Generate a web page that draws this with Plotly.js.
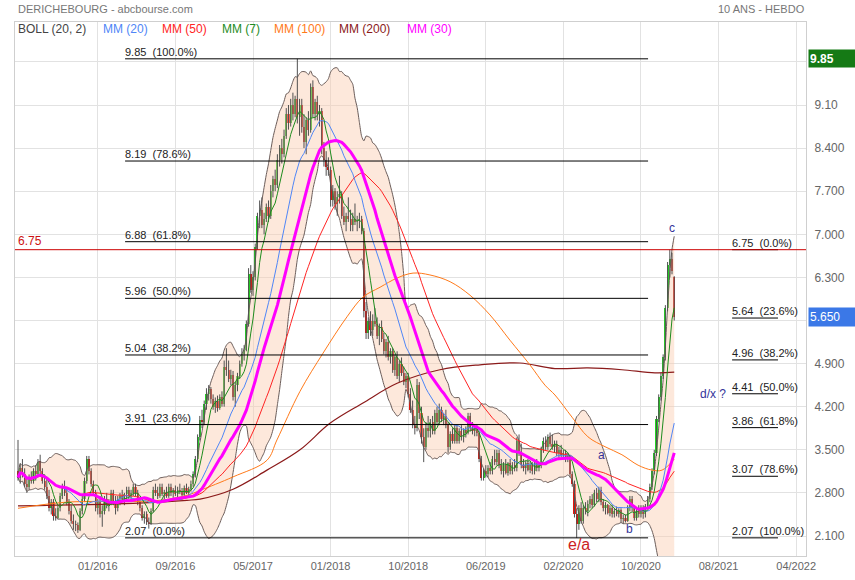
<!DOCTYPE html>
<html><head><meta charset="utf-8">
<script src="https://cdn.plot.ly/plotly-3.0.1.min.js"></script>
<style>html,body{margin:0;padding:0;background:#fff;}#chart{width:855px;height:580px;}</style>
</head><body><div id="chart"></div>
<script>
// ---- weekly OHLC (bar index 0 .. 296) ----
const opens = [
3.15,3.05,3.2,3.1,2.95,2.9,3.05,3.0,3.15,3.1,
3.32,3.15,3.0,2.9,2.75,2.55,2.65,2.42,2.4,2.55,
2.75,2.9,2.8,2.65,2.5,2.35,2.3,2.28,2.2,2.5,
2.7,3.0,3.35,3.15,2.95,2.8,2.55,2.65,2.45,2.5,
2.7,2.6,2.65,2.8,2.65,2.55,2.7,2.75,2.7,2.78,
2.85,2.75,2.8,2.9,2.8,2.65,2.55,2.4,2.45,2.32,
2.3,2.5,2.85,2.8,2.75,2.9,2.78,2.82,2.75,2.9,
2.8,2.85,2.78,2.85,2.82,2.76,2.88,2.8,2.86,2.95,
3.1,3.35,3.7,3.98,3.95,4.25,4.4,4.48,4.32,4.2,
4.3,4.18,4.35,4.25,4.85,4.8,4.65,4.72,4.35,4.55,
4.7,4.9,5.05,5.12,5.55,6.35,6.1,6.3,6.8,7.3,
7.4,7.15,7.25,7.45,7.3,7.7,7.9,7.8,8.2,8.4,
8.3,8.6,8.95,8.8,9.1,8.95,9.2,8.9,9.1,8.75,
8.5,8.85,8.7,9.4,8.95,9.15,8.95,9.0,8.4,8.2,
8.1,8.05,7.55,7.7,7.5,7.6,7.65,7.3,7.2,7.3,
7.25,7.15,7.25,7.2,7.22,7.25,7.05,5.75,5.4,5.6,
5.45,5.6,5.55,5.35,5.5,5.3,5.1,5.25,5.0,5.1,
4.8,5.0,4.7,4.9,4.75,4.6,4.7,4.4,4.15,3.9,
3.85,4.55,4.1,3.7,3.55,3.85,3.8,3.95,3.8,4.1,
3.95,4.15,4.0,4.05,3.9,3.55,3.75,3.65,3.85,3.65,
3.8,3.7,3.82,3.78,4.05,3.85,3.8,3.85,3.78,3.35,
3.05,3.15,3.1,3.2,3.15,3.35,3.3,3.45,3.25,3.15,
3.25,3.12,3.28,3.15,3.25,3.2,3.65,3.45,3.25,3.2,
3.28,3.18,3.25,3.15,3.28,3.2,3.25,3.5,3.65,3.55,
3.7,3.6,3.55,3.6,3.45,3.5,3.42,3.45,3.35,3.4,
3.1,2.95,2.45,2.3,2.55,2.35,2.55,2.5,2.62,2.7,
2.6,2.8,2.7,2.85,2.65,2.55,2.6,2.48,2.55,2.45,
2.5,2.45,2.52,2.38,2.4,2.35,2.55,2.7,2.55,2.4,
2.5,2.45,2.55,2.45,2.58,2.7,2.9,3.15,3.45,4.0,
4.35,4.7,5.0,5.8,6.5,6.6,6.3];
const highs = [
3.66,3.28,3.35,3.2,3.05,3.1,3.15,3.2,3.25,3.35,
3.42,3.2,3.1,3.05,2.85,2.7,2.7,2.55,2.6,2.8,
2.95,3.0,2.9,2.7,2.6,2.45,2.35,2.32,2.55,2.75,
3.05,3.4,3.4,3.2,3.0,2.85,2.7,2.75,2.6,2.75,
2.8,2.7,2.85,2.85,2.75,2.75,2.8,2.85,2.8,2.9,
2.9,2.85,2.95,2.95,2.85,2.7,2.6,2.5,2.5,2.4,
2.55,2.9,2.95,2.9,2.95,2.95,2.85,2.9,2.95,2.95,
2.88,2.92,2.9,2.95,2.88,2.92,2.95,2.9,3.0,3.15,
3.4,3.75,4.05,4.15,4.3,4.5,4.55,4.52,4.4,4.35,
4.38,4.4,4.45,4.95,5.15,4.95,4.8,4.78,4.6,4.75,
4.95,5.15,5.2,5.6,6.45,6.5,6.4,6.85,7.35,7.55,
7.6,7.35,7.5,7.55,7.8,7.95,8.05,8.3,8.45,8.55,
8.7,9.05,9.1,9.2,9.3,9.25,9.85,9.2,9.2,8.95,
8.9,9.0,9.45,9.5,9.2,9.25,9.1,9.05,8.5,8.35,
8.25,8.1,7.8,7.75,7.7,7.95,7.7,7.45,7.35,7.6,
7.4,7.35,7.5,7.3,7.35,7.3,7.1,5.9,5.65,5.75,
5.7,5.8,5.65,5.55,5.6,5.4,5.3,5.35,5.15,5.15,
5.05,5.1,4.95,5.0,4.85,4.75,4.75,4.5,4.3,4.05,
4.65,4.6,4.2,3.85,3.95,4.05,4.0,4.05,4.15,4.2,
4.25,4.2,4.1,4.15,3.95,3.8,3.85,3.9,3.9,3.85,
3.9,3.85,3.88,4.1,4.1,3.95,3.9,3.9,3.8,3.4,
3.2,3.25,3.25,3.3,3.4,3.5,3.5,3.5,3.35,3.3,
3.35,3.3,3.35,3.3,3.35,3.7,3.75,3.6,3.35,3.32,
3.35,3.3,3.3,3.3,3.35,3.3,3.55,3.7,3.72,3.75,
3.78,3.75,3.65,3.65,3.55,3.58,3.5,3.5,3.45,3.42,
3.15,3.0,2.55,2.6,2.65,2.6,2.65,2.68,2.75,2.78,
2.85,2.88,2.9,2.9,2.7,2.65,2.62,2.6,2.6,2.55,
2.58,2.55,2.55,2.45,2.45,2.6,2.75,2.75,2.6,2.55,
2.6,2.6,2.6,2.62,2.75,2.95,3.2,3.5,4.05,4.4,
4.75,5.05,5.85,6.55,6.75,6.7,6.32];
const lows = [
3.0,2.95,3.05,2.9,2.8,2.85,2.95,2.95,3.0,3.05,
3.1,2.95,2.85,2.7,2.5,2.45,2.35,2.35,2.38,2.5,
2.7,2.75,2.6,2.45,2.3,2.2,2.18,2.15,2.18,2.45,
2.65,2.95,3.1,2.9,2.75,2.5,2.45,2.4,2.25,2.45,
2.55,2.5,2.6,2.6,2.45,2.5,2.6,2.65,2.6,2.7,
2.7,2.65,2.75,2.75,2.6,2.5,2.35,2.3,2.28,2.22,
2.28,2.48,2.75,2.7,2.72,2.75,2.7,2.72,2.72,2.75,
2.72,2.75,2.72,2.78,2.72,2.74,2.78,2.75,2.82,2.9,
3.05,3.3,3.65,3.85,3.9,4.15,4.3,4.25,4.15,4.1,
4.12,4.15,4.2,4.2,4.7,4.6,4.55,4.3,4.2,4.45,
4.65,4.85,4.95,5.1,5.5,6.05,6.0,6.25,6.75,7.1,
7.1,7.0,7.2,7.2,7.25,7.6,7.7,7.75,8.1,8.15,
8.25,8.55,8.7,8.75,8.85,8.9,8.8,8.6,8.65,8.4,
8.3,8.6,8.65,8.9,8.85,8.85,8.75,8.3,8.1,7.95,
7.95,7.45,7.45,7.4,7.3,7.5,7.25,7.15,7.05,7.2,
7.05,7.05,7.15,7.05,7.1,7.0,5.65,5.3,5.3,5.35,
5.35,5.5,5.3,5.2,5.25,5.05,5.0,4.95,4.9,4.75,
4.7,4.65,4.6,4.7,4.55,4.5,4.35,4.1,3.85,3.75,
3.8,4.0,3.6,3.3,3.5,3.7,3.7,3.75,3.75,3.9,
3.9,3.95,3.9,3.85,3.45,3.5,3.6,3.6,3.6,3.6,
3.65,3.62,3.7,3.75,3.8,3.75,3.72,3.72,3.3,3.0,
3.0,3.05,3.05,3.1,3.1,3.25,3.25,3.2,3.1,3.05,
3.1,3.08,3.1,3.1,3.15,3.15,3.4,3.2,3.15,3.1,
3.15,3.12,3.1,3.1,3.15,3.15,3.2,3.45,3.5,3.5,
3.55,3.5,3.45,3.4,3.35,3.38,3.35,3.3,3.3,3.05,
2.9,2.4,2.07,2.2,2.3,2.3,2.45,2.42,2.55,2.55,
2.58,2.65,2.65,2.6,2.5,2.45,2.45,2.42,2.4,2.4,
2.42,2.4,2.32,2.3,2.32,2.33,2.5,2.5,2.35,2.35,
2.4,2.4,2.38,2.4,2.55,2.65,2.85,3.1,3.4,3.95,
4.3,4.65,4.95,5.75,6.3,6.35,5.6];
const closes = [
3.05,3.2,3.1,2.95,2.9,3.05,3.0,3.15,3.1,3.3,
3.15,3.0,2.9,2.75,2.55,2.65,2.42,2.4,2.55,2.75,
2.9,2.8,2.65,2.5,2.35,2.3,2.28,2.2,2.5,2.7,
3.0,3.35,3.15,2.95,2.8,2.55,2.65,2.45,2.5,2.7,
2.6,2.65,2.8,2.65,2.55,2.7,2.75,2.7,2.78,2.85,
2.75,2.8,2.9,2.8,2.65,2.55,2.4,2.45,2.32,2.3,
2.5,2.85,2.8,2.75,2.9,2.78,2.82,2.75,2.9,2.8,
2.85,2.78,2.85,2.82,2.76,2.88,2.8,2.86,2.95,3.1,
3.35,3.7,3.98,3.95,4.25,4.4,4.48,4.32,4.2,4.3,
4.18,4.35,4.25,4.85,4.8,4.65,4.72,4.35,4.55,4.7,
4.9,5.05,5.12,5.55,6.35,6.1,6.3,6.8,7.3,7.4,
7.15,7.25,7.45,7.3,7.7,7.9,7.8,8.2,8.4,8.3,
8.6,8.95,8.8,9.1,8.95,9.2,8.9,9.1,8.75,8.5,
8.85,8.7,9.4,8.95,9.15,8.95,9.0,8.4,8.2,8.1,
8.05,7.55,7.7,7.5,7.6,7.65,7.3,7.2,7.3,7.25,
7.15,7.25,7.2,7.22,7.25,7.05,5.75,5.4,5.6,5.45,
5.6,5.55,5.35,5.5,5.3,5.1,5.25,5.0,5.1,4.8,
5.0,4.7,4.9,4.75,4.6,4.7,4.4,4.15,3.9,3.85,
4.55,4.1,3.7,3.55,3.85,3.8,3.95,3.8,4.1,3.95,
4.15,4.0,4.05,3.9,3.55,3.75,3.65,3.85,3.65,3.8,
3.7,3.82,3.78,4.05,3.85,3.8,3.85,3.78,3.35,3.05,
3.15,3.1,3.2,3.15,3.35,3.3,3.45,3.25,3.15,3.25,
3.12,3.28,3.15,3.25,3.2,3.65,3.45,3.25,3.2,3.28,
3.18,3.25,3.15,3.28,3.2,3.25,3.5,3.65,3.55,3.7,
3.6,3.55,3.6,3.45,3.5,3.42,3.45,3.35,3.4,3.1,
2.95,2.45,2.3,2.55,2.35,2.55,2.5,2.62,2.7,2.6,
2.8,2.7,2.85,2.65,2.55,2.6,2.48,2.55,2.45,2.5,
2.45,2.52,2.38,2.4,2.35,2.55,2.7,2.55,2.4,2.5,
2.45,2.55,2.45,2.58,2.7,2.9,3.15,3.45,4.0,4.35,
4.7,5.0,5.8,6.5,6.6,6.4,5.65];

// long moving averages (bar index, value)
const mm100Bars = [0,22.1,51.9,64.1,76.2,82.1,97,112.3,116.8,127.2,137.6,148.4,155.6,163.3,171,178.2,185.8,194.9,203.9,212.9,221.9,230.9,237.7,242.2,249.9,257.1,264.8,272.4,279.7,286,290.5,296];
const mm100Vals = [2.55,2.65,2.66,2.68,2.76,2.84,3.06,3.33,3.66,4.45,5.07,5.66,5.98,6.14,6.29,6.37,6.34,6.23,6.01,5.69,5.28,4.88,4.55,4.39,4.03,3.71,3.55,3.42,3.25,3.17,3.17,3.35];
const mm200Bars = [0,51.9,76.2,82.1,97,112.3,127.2,140.7,155.6,171,190.3,208.4,226.4,242.2,257.1,272.4,287.3,296];
const mm200Vals = [2.59,2.63,2.68,2.70,2.86,3.17,3.5,3.93,4.26,4.58,4.80,4.88,4.91,4.82,4.83,4.80,4.75,4.76];

// axis labels
const xTickBars = [36,71,106,141,176,211,246,281,316,351];
const xTickLabels = ['01/2016','09/2016','05/2017','01/2018','10/2018','06/2019','02/2020','10/2020','08/2021','04/2022'];
const yTickVals = [2.1,2.8,3.5,4.2,4.9,5.6,6.3,7.0,7.7,8.4,9.1,9.8];
const yTickText = ['2.100','2.800','3.500','4.200','4.900','','6.300','7.000','7.700','8.400','9.10',''];

// Fibonacci levels
const fibLeftLevels = [9.85,8.19,6.88,5.96,5.04,3.91,2.07];
const fibLeftPct = ['100.0%','78.6%','61.8%','50.0%','38.2%','23.6%','0.0%'];
const fibRightLevels = [6.75,5.64,4.96,4.41,3.86,3.07,2.07];
const fibRightPct = ['0.0%','23.6%','38.2%','50.0%','61.8%','78.6%','100.0%'];
const resistance = 6.75;
const highLabel = 9.85;
const lastLabel = 5.65;

// ---- layout geometry (pixels) ----
const W = 855, H = 580, ML = 15, MR = 49, MT = 22, MB = 24;
const PW = W - ML - MR, PH = H - MT - MB;
const X0 = -1.353, X1 = X0 + PW / 2.217;
const Y0 = 1.7752, Y1 = 10.448;
const P = x => (x - ML) / PW;
const Q = y => (H - MB - y) / PH;
const FONT = 'Liberation Sans, Arial, sans-serif';

// ---- derived indicators ----
function sma(a, n) {
  return a.map((_, i) => { const s = Math.max(0, i - n + 1); let t = 0; for (let k = s; k <= i; k++) t += a[k]; return t / (i - s + 1); });
}
function boll(a, n, m) {
  const mid = sma(a, n), up = [], dn = [];
  a.forEach((_, i) => {
    const s = Math.max(0, i - n + 1); let v = 0;
    for (let k = s; k <= i; k++) v += (a[k] - mid[i]) ** 2;
    const sd = Math.sqrt(v / (i - s + 1));
    up.push(mid[i] + m * sd); dn.push(mid[i] - m * sd);
  });
  return {up, dn};
}
const idx = closes.map((_, i) => i);
const bb = boll(closes, 20, 2);

// wicks
const wx = [], wy = [];
idx.forEach(i => { wx.push(i, i, null); wy.push(lows[i], highs[i], null); });
const bodyBase = idx.map(i => Math.min(opens[i], closes[i]));
const bodyH = idx.map(i => Math.abs(closes[i] - opens[i]));
const bodyCol = idx.map(i => closes[i] >= opens[i] ? '#22d422' : '#ec1208');

const traces = [
  {x: idx, y: bb.dn, type: 'scatter', mode: 'lines', line: {color: '#6b5d5a', width: 1, shape: 'spline', smoothing: 0.6}, hoverinfo: 'skip'},
  {x: idx, y: bb.up, type: 'scatter', mode: 'lines', fill: 'tonexty', fillcolor: 'rgba(250,205,175,0.45)', line: {color: '#6b5d5a', width: 1, shape: 'spline', smoothing: 0.6}, hoverinfo: 'skip'},
  {x: wx, y: wy, type: 'scatter', mode: 'lines', line: {color: '#505050', width: 1}, connectgaps: false, hoverinfo: 'skip'},
  {x: idx, y: bodyH, base: bodyBase, type: 'bar', width: 0.95, marker: {color: bodyCol, line: {width: 0}}, hoverinfo: 'skip'},
  {x: mm200Bars, y: mm200Vals, type: 'scatter', mode: 'lines', line: {color: '#8b1a1a', width: 1.2, shape: 'spline'}},
  {x: mm100Bars, y: mm100Vals, type: 'scatter', mode: 'lines', line: {color: '#ff7a1a', width: 1, shape: 'spline'}},
  {x: idx, y: sma(closes, 50), type: 'scatter', mode: 'lines', line: {color: '#ff2424', width: 1}},
  {x: idx, y: sma(closes, 20), type: 'scatter', mode: 'lines', line: {color: '#4f86f7', width: 1}},
  {x: idx, y: sma(closes, 7), type: 'scatter', mode: 'lines', line: {color: '#1e8c1e', width: 1}},
  {x: idx, y: sma(closes, 30), type: 'scatter', mode: 'lines', line: {color: '#ff00ff', width: 3}}
];

const shapes = [];
const ann = [];
const FL0 = 48.3, FL1 = 284.2, FR0 = 322.1, FR1 = 342.8;
fibLeftLevels.forEach((v, k) => {
  shapes.push({type: 'line', xref: 'x', yref: 'y', x0: FL0, x1: FL1, y0: v, y1: v, line: {color: '#000', width: 1}});
  ann.push({xref: 'x', yref: 'y', x: FL0, y: v, xanchor: 'left', yanchor: 'bottom', xshift: -2, yshift: -1, showarrow: false,
    text: v.toFixed(2) + '\u00a0\u00a0(' + fibLeftPct[k] + ')', font: {family: FONT, size: 11, color: '#222'}});
});
fibRightLevels.forEach((v, k) => {
  shapes.push({type: 'line', xref: 'x', yref: 'y', x0: FR0, x1: FR1, y0: v, y1: v, line: {color: '#000', width: 1}});
  ann.push({xref: 'x', yref: 'y', x: FR0, y: v, xanchor: 'left', yanchor: 'bottom', xshift: -2, yshift: -1, showarrow: false,
    text: v.toFixed(2) + '\u00a0\u00a0(' + fibRightPct[k] + ')', font: {family: FONT, size: 11, color: '#222'}});
});
shapes.push({type: 'line', xref: 'paper', yref: 'y', x0: 0, x1: 1, y0: resistance, y1: resistance, line: {color: '#cc0000', width: 1}});
ann.push({xref: 'paper', yref: 'y', x: P(16), y: resistance, xanchor: 'left', yanchor: 'bottom', showarrow: false, text: resistance.toFixed(2), font: {family: FONT, size: 12, color: '#cc1111'}});

function txt(x, y, t, color, size, anchor) {
  ann.push({xref: 'paper', yref: 'paper', x: P(x), y: Q(y), xanchor: anchor || 'left', yanchor: 'middle', showarrow: false, text: t, font: {family: FONT, size: size, color: color}});
}
txt(16, 9, 'DERICHEBOURG - abcbourse.com', '#777', 11);
txt(807, 9, '10 ANS - HEBDO', '#777', 11, 'right');
txt(16, 29, 'BOLL (20, 2)', '#444', 12);
txt(101, 29, 'MM (20)', '#4f86f7', 12);
txt(160, 29, 'MM (50)', '#ff2424', 12);
txt(220, 29, 'MM (7)', '#1e8c1e', 12);
txt(272, 29, 'MM (100)', '#ff7a1a', 12);
txt(337, 29, 'MM (200)', '#8b1a1a', 12);
txt(405, 29, 'MM (30)', '#ff00ff', 12);
txt(667, 228, 'c', '#333399', 12);
txt(596, 455, 'a', '#333399', 12);
txt(624, 529, 'b', '#333399', 12);
txt(698, 394, 'd/x ?', '#333399', 12);
txt(566, 544, 'e/a', '#cc2222', 16);

// price boxes on the right axis
ann.push({xref: 'paper', yref: 'y', x: P(808), y: highLabel, xanchor: 'left', yanchor: 'middle', showarrow: false,
  text: '<b>' + highLabel.toFixed(2) + '</b>', align: 'left', width: 44, height: 15, bgcolor: '#157a15', borderpad: 1, font: {family: FONT, size: 12, color: '#fff'}});
ann.push({xref: 'paper', yref: 'y', x: P(808), y: lastLabel, xanchor: 'left', yanchor: 'middle', showarrow: false,
  text: lastLabel.toFixed(3), align: 'left', width: 44, height: 16, bgcolor: '#3b78e7', borderpad: 1, font: {family: FONT, size: 12, color: '#fff'}});

const layout = {
  width: W, height: H, margin: {l: ML, r: MR, t: MT, b: MB},
  paper_bgcolor: '#fff', plot_bgcolor: '#fff', showlegend: false, hovermode: false,
  bargap: 0,
  xaxis: {range: [X0, X1], tickvals: xTickBars, ticktext: xTickLabels, showgrid: true, gridcolor: '#e2e2e2', gridwidth: 1,
    zeroline: false, showline: true, linecolor: '#cfcfcf', mirror: true, ticks: '', tickfont: {family: FONT, size: 11, color: '#666'}, fixedrange: true},
  yaxis: {range: [Y0, Y1], side: 'right', tickvals: yTickVals, ticktext: yTickText, showgrid: true, gridcolor: '#e2e2e2', gridwidth: 1,
    zeroline: false, showline: true, linecolor: '#cfcfcf', mirror: true, ticks: '', ticklabelstandoff: 5, tickfont: {family: FONT, size: 12, color: '#666'}, fixedrange: true},
  shapes: shapes, annotations: ann
};
Plotly.newPlot('chart', traces, layout, {displayModeBar: false, staticPlot: true});
</script>
</body></html>
